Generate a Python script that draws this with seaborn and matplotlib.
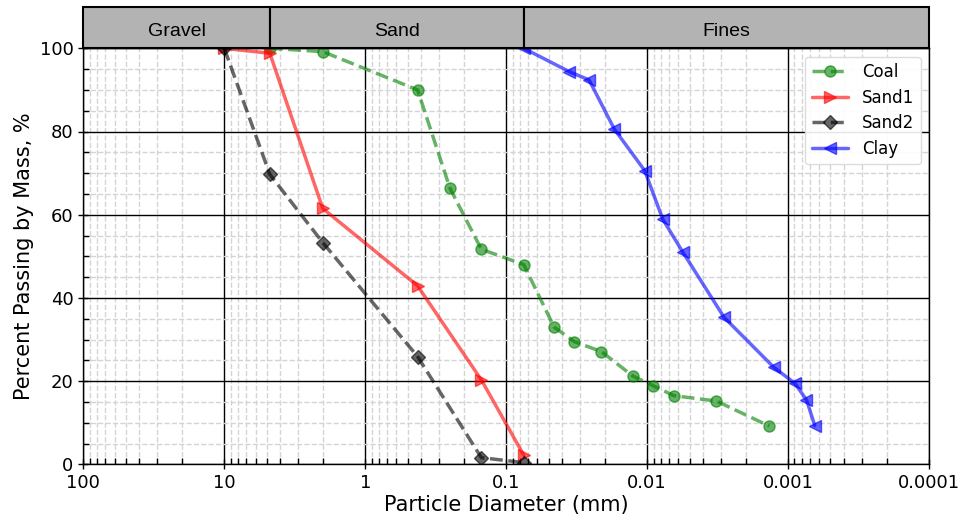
import numpy as np
import pandas as pd
import matplotlib
matplotlib.use("Agg")
import matplotlib.pyplot as plt
import seaborn as sns
from matplotlib.ticker import FixedLocator, FuncFormatter, LogLocator, MultipleLocator, NullFormatter

# Grain-size distribution data: particle diameter (mm) and percent passing
coal_d = [4.75, 2.0, 0.425, 0.25, 0.15, 0.075, 0.0457, 0.0329, 0.0211, 0.0126,
          0.00907, 0.00646, 0.00322, 0.00136]
coal_p = [100, 99.2, 90.0, 66.3, 51.7, 48.0, 33.0, 29.5, 27.1, 21.2, 18.9, 16.5, 15.2, 9.2]

sand1_d = [10, 4.75, 2.0, 0.425, 0.15, 0.075]
sand1_p = [100, 98.8, 61.5, 42.9, 20.3, 2.2]

sand2_d = [10, 4.75, 2.0, 0.425, 0.15, 0.075]
sand2_p = [100, 69.7, 53.3, 25.9, 1.6, 0.4]

clay_d = [0.075, 0.0357, 0.0258, 0.0171, 0.0104, 0.00774, 0.00558, 0.00284,
          0.00126, 0.000897, 0.00074, 0.000646]
clay_p = [100, 94.4, 92.4, 80.6, 70.6, 58.9, 51.0, 35.3, 23.3, 19.5, 15.5, 9.3]

# Soil classification zones (boundaries in mm)
zone_names = ["Gravel", "Sand", "Fines"]
zone_edges = [100, 4.75, 0.075, 0.0001]

x_ticks = [100, 10, 1, 0.1, 0.01, 0.001, 0.0001]
x_tick_labels = ["100", "10", "1", "0.1", "0.01", "0.001", "0.0001"]

sns.set_style("ticks")
plt.rcParams["font.family"] = ["DejaVu Sans"]
plt.rcParams.update({"text.color": "black", "axes.labelcolor": "black",
                     "xtick.color": "black", "ytick.color": "black"})

W, H = 961, 521
fig = plt.figure(figsize=(W / 100, H / 100), dpi=100)
left, right, top, bottom = 83.3, 929, 48.3, 464.3
ax = fig.add_axes([left / W, 1 - bottom / H, (right - left) / W, (bottom - top) / H])

series = [
    ("Coal", coal_d, coal_p, "g", "o", "--", 8),
    ("Sand1", sand1_d, sand1_p, "r", ">", "-", 8),
    ("Sand2", sand2_d, sand2_p, "k", "D", "--", 7),
    ("Clay", clay_d, clay_p, "b", "<", "-", 8),
]
for name, d, p, c, m, ls, ms in series:
    df = pd.DataFrame({"d": d, "p": p})
    sns.lineplot(data=df, x="d", y="p", ax=ax, sort=False, estimator=None,
                 color=c, marker=m, linestyle=ls, linewidth=2.5, alpha=0.6,
                 markersize=ms, mec=c, mew=1, label=name)

ax.set_xscale("log")
ax.set_xlim(100, 0.0001)
ax.set_ylim(0, 100)

ax.xaxis.set_major_locator(FixedLocator(x_ticks))
ax.xaxis.set_major_formatter(FuncFormatter(lambda v, pos: x_tick_labels[x_ticks.index(v)]
                                           if v in x_ticks else ""))
ax.xaxis.set_minor_locator(LogLocator(base=10, subs=np.arange(2, 10), numticks=50))
ax.xaxis.set_minor_formatter(NullFormatter())
ax.yaxis.set_major_locator(MultipleLocator(20))
ax.yaxis.set_minor_locator(MultipleLocator(5))

ax.grid(which="major", color="k", linestyle="-", linewidth=1)
ax.grid(which="minor", color="0.83", linestyle="--", linewidth=1)
ax.set_axisbelow(True)
ax.tick_params(which="major", direction="inout", length=7, width=1, labelsize=13)
ax.tick_params(which="minor", direction="in", length=4, width=1)
for s in ax.spines.values():
    s.set_linewidth(1)
    s.set_color("k")

ax.set_xlabel("Particle Diameter (mm)", fontsize=15, labelpad=2)
ax.set_ylabel("Percent Passing by Mass, %", fontsize=15)

ax.legend(loc="upper right", fontsize=12, labelspacing=0.45, handlelength=2.2,
          framealpha=0.9, edgecolor="0.85")

# Header band with classification zones
hax = fig.add_axes([left / W, 1 - top / H, (right - left) / W, (top - 7.3) / H], sharex=ax)
hax.set_ylim(0, 1)
hax.axis("off")
for name, x0, x1 in zip(zone_names, zone_edges[:-1], zone_edges[1:]):
    hax.axvspan(x0, x1, ymin=0, ymax=1, facecolor="0.7", edgecolor="k",
                linewidth=1.5, clip_on=False)
    hax.text(np.sqrt(x0 * x1), 0.4, name, ha="center", va="center",
             fontsize=14, family=["Liberation Sans", "DejaVu Sans"])

fig.savefig("out.png", dpi=100)
